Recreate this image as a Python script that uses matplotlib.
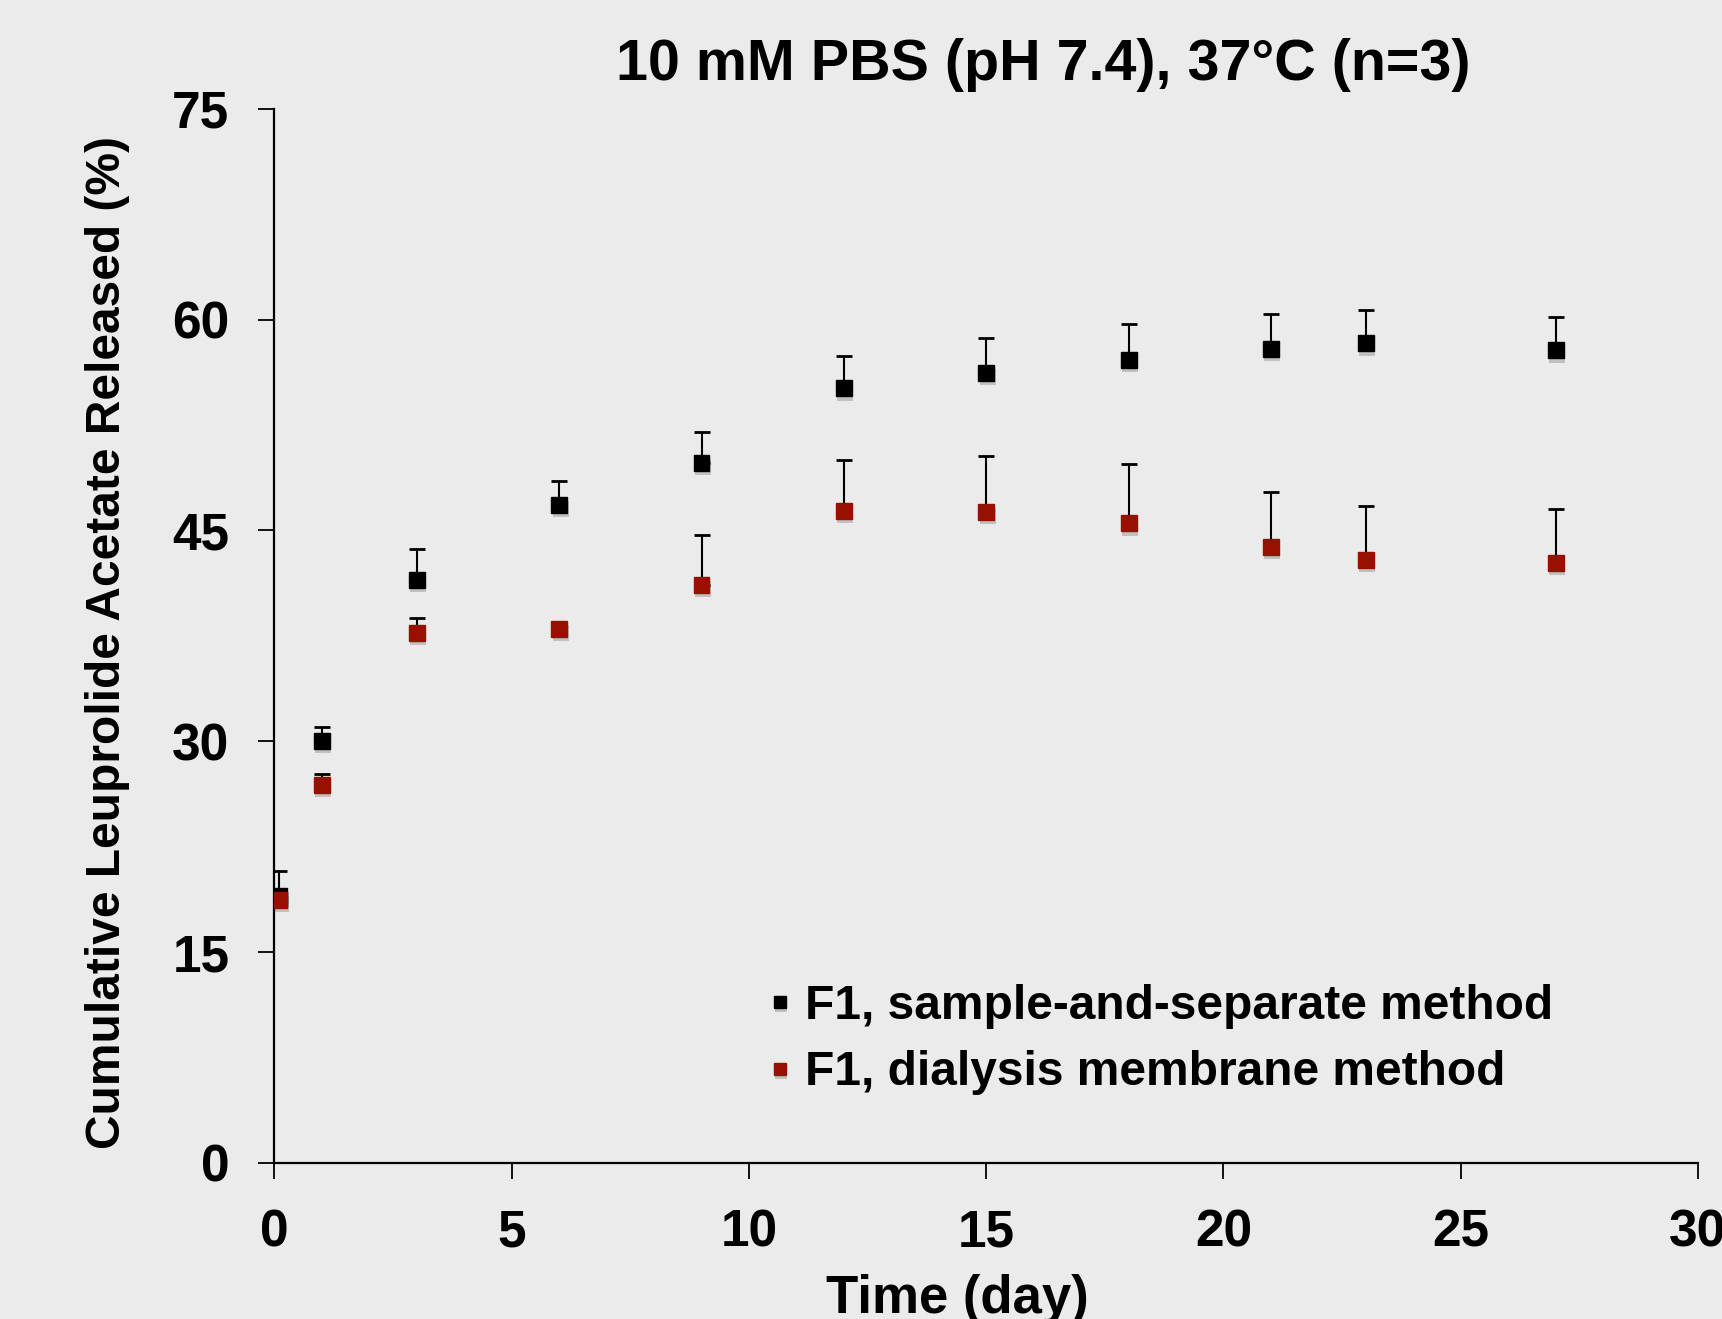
import numpy as np
import matplotlib
matplotlib.use('Agg')
import matplotlib.pyplot as plt
import matplotlib.patheffects as pe

# release data (upper error bars only)
days = [0.1, 1, 3, 6, 9, 12, 15, 18, 21, 23, 27]
sep_mean = [19.0, 30.0, 41.5, 46.8, 49.8, 55.1, 56.2, 57.1, 57.9, 58.3, 57.8]
sep_sd = [1.8, 1.0, 2.2, 1.7, 2.2, 2.3, 2.5, 2.6, 2.5, 2.4, 2.4]
dia_mean = [18.7, 26.9, 37.7, 38.0, 41.1, 46.4, 46.3, 45.5, 43.8, 42.9, 42.7]
dia_sd = [0.0, 0.8, 1.1, 0.0, 3.6, 3.6, 4.0, 4.2, 3.9, 3.8, 3.8]

labels = ['F1, sample-and-separate method', 'F1, dialysis membrane method']
colors = ['#000000', '#981100']
xticks = [0, 5, 10, 15, 20, 25, 30]
yticks = [0, 15, 30, 45, 60, 75]

plt.rcParams['font.family'] = ['Liberation Sans', 'DejaVu Sans']
plt.rcParams['font.weight'] = 'bold'

bg = '#ebebeb'
fig = plt.figure(figsize=(17.22, 13.19), dpi=100, facecolor=bg)
ax = fig.add_axes([0.1594, 0.1183, 0.8266, 0.7993])
ax.set_facecolor(bg)

shadow = [pe.SimplePatchShadow(offset=(1, -3), shadow_rgbFace='k', alpha=0.18), pe.Normal()]
for ys, sd, c, lab in [(sep_mean, sep_sd, colors[0], labels[0]),
                       (dia_mean, dia_sd, colors[1], labels[1])]:
    ax.errorbar(days, ys, yerr=[np.zeros(len(sd)), sd], fmt='none', ecolor='black',
                elinewidth=1.5, capsize=5.75, capthick=2.0, zorder=2)
    ax.plot(days, ys, linestyle='none', marker='s', markersize=11.5, color=c,
            markeredgecolor=c, label=lab, zorder=3, path_effects=shadow)

ax.set_xlim(0, 30)
ax.set_ylim(0, 75)
ax.set_xticks(xticks)
ax.set_yticks(yticks)
for s in ['top', 'right']:
    ax.spines[s].set_visible(False)
for s in ['left', 'bottom']:
    ax.spines[s].set_linewidth(1.6)
ax.tick_params(axis='both', direction='out', length=11.5, width=1.3, labelsize=37, colors='black')
ax.tick_params(axis='x', pad=21)
ax.tick_params(axis='y', pad=21)
for t in ax.get_xticklabels() + ax.get_yticklabels():
    t.set_fontweight('bold')

fig.text(0.606, 0.951, '10 mM PBS (pH 7.4), 37°C (n=3)', ha='center', va='center',
         fontsize=41.3, fontweight='bold')
fig.text(0.0625, 0.513, 'Cumulative Leuprolide Acetate Released (%)', rotation=90,
         ha='center', va='center', fontsize=34.5, fontweight='bold')
fig.text(0.556, 0.0045, 'Time (day)', ha='center', va='baseline', fontsize=38,
         fontweight='bold')

ax.legend(loc='center left', bbox_to_anchor=(0.446, 0.2118), bbox_transform=fig.transFigure,
          frameon=False, markerscale=0.75, handlelength=0.5,
          handletextpad=0.28, labelspacing=0.45, borderpad=0, borderaxespad=0,
          prop={'weight': 'bold', 'size': 34.5})

fig.savefig('out.png', dpi=100, facecolor=bg)
